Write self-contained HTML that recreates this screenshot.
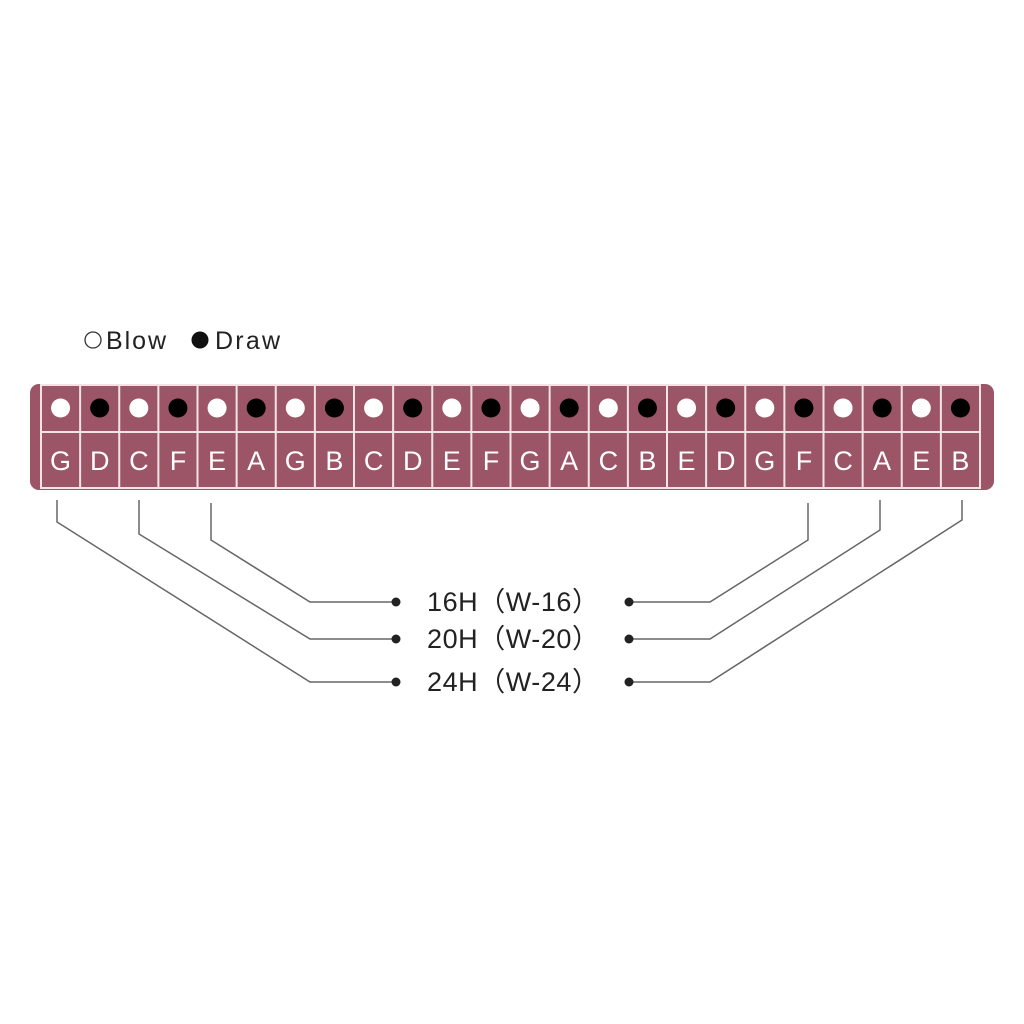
<!DOCTYPE html>
<html><head><style>
body{margin:0;width:1024px;height:1024px;background:#fff;position:relative;overflow:hidden;font-family:"Liberation Sans","Noto Sans CJK SC",sans-serif}
</style></head><body>
<svg width="1024" height="1024" style="position:absolute;left:0;top:0">
<circle cx="93" cy="340" r="8" fill="none" stroke="#333" stroke-width="1.3"/>
<text x="106" y="349" font-size="25" fill="#222" textLength="60">Blow</text>
<circle cx="200" cy="340" r="8.5" fill="#111"/>
<text x="215" y="349" font-size="25" fill="#222" textLength="65">Draw</text>
<rect x="30" y="384" width="964" height="106" rx="9" fill="#9b5566"/>
<g id="grid" stroke="#f3e3e6" stroke-width="2" fill="none">
<rect x="41" y="385" width="939" height="103"/>
<line x1="41" y1="432" x2="980" y2="432"/>
</g>
<g stroke="#f3e3e6" stroke-width="2" id="vl"></g>
<g id="dots"></g>
<g id="notes" font-size="27" fill="#fff" text-anchor="middle"></g>
<g stroke="#666" stroke-width="1.5" fill="none">
<polyline points="57,500 57,522 310,682 396,682"/>
<polyline points="139,500 139,534 310,639 396,639"/>
<polyline points="211,503 211,540 310,602 396,602"/>
<polyline points="808,503 808,540 710,602 629,602"/>
<polyline points="880,500 880,530 710,639 629,639"/>
<polyline points="962,500 962,520 710,682 629,682"/>
</g>
<g fill="#222">
<circle cx="396" cy="602" r="4.5"/><circle cx="396" cy="639" r="4.5"/><circle cx="396" cy="682" r="4.5"/>
<circle cx="629" cy="602" r="4.5"/><circle cx="629" cy="639" r="4.5"/><circle cx="629" cy="682" r="4.5"/>
</g>
<g font-size="27" fill="#222" font-family="Liberation Sans, Noto Sans CJK SC, sans-serif">
<text x="427" y="611" textLength="172" lengthAdjust="spacing">16H（W-16）</text>
<text x="427" y="648" textLength="172" lengthAdjust="spacing">20H（W-20）</text>
<text x="427" y="691" textLength="172" lengthAdjust="spacing">24H（W-24）</text>
</g>
</svg>
<script>
var notes="GDCFEAGBCDEFGACBEDGFCAEB";
var w=939/24,vl=document.getElementById('vl'),d=document.getElementById('dots'),n=document.getElementById('notes'),ns='http://www.w3.org/2000/svg';
for(var i=0;i<24;i++){
 var x=41+i*w;
 if(i>0){var l=document.createElementNS(ns,'line');l.setAttribute('x1',x);l.setAttribute('x2',x);l.setAttribute('y1',385);l.setAttribute('y2',488);vl.appendChild(l);}
 var c=document.createElementNS(ns,'circle');c.setAttribute('cx',x+w/2);c.setAttribute('cy',408);c.setAttribute('r',9.5);c.setAttribute('fill',i%2?'#000':'#fff');d.appendChild(c);
 var t=document.createElementNS(ns,'text');t.setAttribute('x',x+w/2);t.setAttribute('y',470);t.textContent=notes[i];n.appendChild(t);
}
</script>
</body></html>
